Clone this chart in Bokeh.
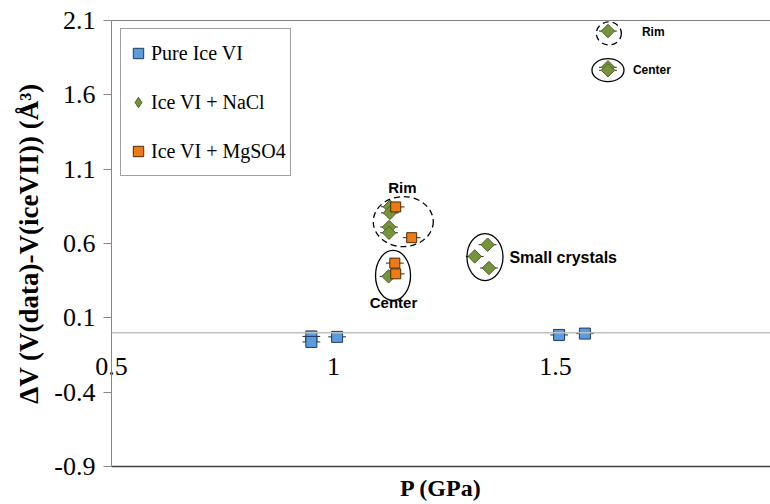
import math
from bokeh.plotting import figure
from bokeh.models import Range1d, LinearAxis, FixedTicker, Legend, LegendItem, Span
from bokeh.core.properties import value
from bokeh.embed import file_html
from bokeh.resources import INLINE

# ---- data ----
pure_p = [0.950, 0.950, 1.008, 1.508, 1.566]
pure_dv = [-0.025, -0.062, -0.028, -0.015, -0.006]

nacl_p = [1.127, 1.127, 1.125, 1.125, 1.124, 1.318, 1.347, 1.350, 1.618, 1.618, 1.618]
nacl_dv = [0.847, 0.806, 0.711, 0.672, 0.379, 0.513, 0.592, 0.435, 2.029, 1.785, 1.765]

mg_p = [1.140, 1.176, 1.138, 1.140]
mg_dv = [0.846, 0.639, 0.468, 0.396]

p_err = 0.02

x_ticks = [0.5, 1.0, 1.5, 2.0]
x_tick_labels = ["0.5", "1", "1.5", "2"]
y_ticks = [-0.9, -0.4, 0.1, 0.6, 1.1, 1.6, 2.1]
y_tick_labels = ["-0.9", "-0.4", "0.1", "0.6", "1.1", "1.6", "2.1"]

# annotation groups: centre (data), size (px), dashed?
ell_x = [1.157, 1.134, 1.341, 1.620, 1.618]
ell_y = [0.747, 0.385, 0.509, 2.013, 1.766]
ell_w = [60, 35, 36, 25, 32]
ell_h = [50, 50, 47, 23, 23]
ell_dashed = [True, False, False, True, False]

note_x = [1.155, 1.135, 1.720, 1.717]
note_y = [0.975, 0.202, 2.024, 1.766]
note_text = ["Rim", "Center", "Rim", "Center"]
note_size = ["15px", "15px", "12px", "12px"]
small_x = [1.396]
small_y = [0.505]
small_text = ["Small crystals"]

SERIF = "Liberation Serif"
SANS = "Liberation Sans"

p = figure(frame_width=659, frame_height=446,
           x_range=Range1d(0.5, 1.984), y_range=Range1d(-0.9, 2.1),
           output_backend="svg", toolbar_location=None,
           min_border_left=111, min_border_right=0, min_border_top=20, min_border_bottom=38)
p.outline_line_color = None
p.grid.visible = False
p.background_fill_color = "white"
p.border_fill_color = "white"

# y axis
ya = p.yaxis[0]
ya.ticker = FixedTicker(ticks=y_ticks)
ya.major_label_overrides = {t: s for t, s in zip(y_ticks, y_tick_labels)}
ya.major_tick_out = 8
ya.major_tick_in = 0
ya.minor_tick_out = 0
ya.minor_tick_in = 0
ya.axis_line_color = "#868686"
ya.major_tick_line_color = "#868686"
ya.major_label_text_font = SERIF
ya.major_label_text_font_size = "26px"
ya.major_label_text_color = "black"
ya.major_label_standoff = 8
ya.axis_label = "ΔV (V(data)-V(iceVII)) (Å³)"
ya.axis_label_text_font = SERIF
ya.axis_label_text_font_style = "bold"
ya.axis_label_text_font_size = "27px"
ya.axis_label_text_color = "black"
ya.axis_label_standoff = 7

# bottom border + x title
xb = p.xaxis[0]
xb.ticker = FixedTicker(ticks=[])
xb.axis_label = "P (GPa)"
xb.axis_line_color = "#404040"
xb.axis_line_width = 1.5
xb.major_tick_out = 0
xb.minor_tick_out = 0
xb.major_label_standoff = 0
xb.axis_label_text_font = SERIF
xb.axis_label_text_font_style = "bold"
xb.axis_label_text_font_size = "24px"
xb.axis_label_text_color = "black"
xb.axis_label_standoff = 8

# x tick labels (shown next to the y = 0 line, as in the reference)
xl = LinearAxis(ticker=FixedTicker(ticks=x_ticks))
xl.major_label_overrides = {t: s for t, s in zip(x_ticks, x_tick_labels)}
xl.axis_line_color = None
xl.major_tick_out = 0
xl.major_tick_in = 0
xl.minor_tick_out = 0
xl.minor_tick_in = 0
xl.major_label_text_font = SERIF
xl.major_label_text_font_size = "26px"
xl.major_label_text_color = "black"
xl.major_label_standoff = -146
p.add_layout(xl, "below")

# top border
xt = LinearAxis(ticker=FixedTicker(ticks=[]))
xt.axis_line_color = "#7F7F7F"
xt.major_tick_out = 0
xt.minor_tick_out = 0
xt.major_label_standoff = 0
p.add_layout(xt, "above")

# x axis line at y = 0
p.add_layout(Span(location=0, dimension="width", line_color="#BFBFBF", line_width=1.5))

# error bars
for px, dv in ((pure_p, pure_dv), (nacl_p, nacl_dv), (mg_p, mg_dv)):
    p.segment(x0=[v - p_err for v in px], y0=dv, x1=[v + p_err for v in px], y1=dv,
              line_color="#262626", line_width=1)

r_pure = p.scatter(pure_p, pure_dv, marker="square", size=11,
                   fill_color="#5B9BE0", line_color="#1F3A60", line_width=1)
r_nacl_leg = p.scatter(nacl_p, nacl_dv, marker="diamond", size=12,
                       fill_color="#77933C", line_color="#4F6228", line_width=1)
r_nacl = p.scatter(nacl_p, nacl_dv, marker="square", size=9.5, angle=math.pi / 4,
                   fill_color="#77933C", line_color="#4F6228", line_width=1)
r_mg = p.scatter(mg_p, mg_dv, marker="square", size=10,
                 fill_color="#EE7A10", line_color="#4A2A08", line_width=1)

# ellipses
for ex, ey, ew, eh, dsh in zip(ell_x, ell_y, ell_w, ell_h, ell_dashed):
    p.ellipse(x=[ex], y=[ey], width=[ew], height=[eh], width_units="screen", height_units="screen",
              fill_color=None, line_color="black", line_width=1.3,
              line_dash="6 4" if dsh else "solid")

for tx, ty, tt, ts in zip(note_x, note_y, note_text, note_size):
    p.text(x=[tx], y=[ty], text=[tt], text_font=value(SANS), text_font_style="bold",
           text_font_size=ts, text_align="center", text_baseline="middle", text_color="black")
p.text(x=small_x, y=small_y, text=small_text, text_font=value(SANS), text_font_style="bold",
       text_font_size="16px", text_align="left", text_baseline="middle", text_color="black")

legend = Legend(items=[LegendItem(label="Pure Ice VI", renderers=[r_pure]),
                       LegendItem(label="Ice VI + NaCl", renderers=[r_nacl_leg]),
                       LegendItem(label="Ice VI + MgSO4", renderers=[r_mg])],
                location=(9, 290))
legend.label_text_font = SERIF
legend.label_text_font_size = "20px"
legend.label_text_color = "black"
legend.border_line_color = "#404040"
legend.border_line_width = 1
legend.background_fill_color = "white"
legend.background_fill_alpha = 1
legend.padding = 4
legend.margin = 0
legend.glyph_width = 26
legend.glyph_height = 40
legend.label_height = 40
legend.spacing = 9
legend.label_standoff = 0
p.add_layout(legend)

open("out.html", "w").write(file_html(p, INLINE))
